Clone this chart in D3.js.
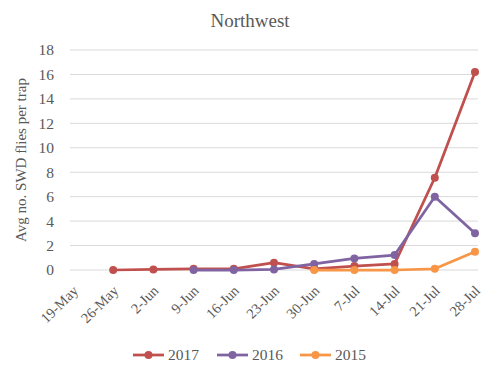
<!DOCTYPE html>
<html><head><meta charset="utf-8">
<script src="https://cdn.jsdelivr.net/npm/d3@7"></script>
<style>body{margin:0;background:#fff;}svg{display:block;}</style>
</head><body>
<script>
const categories = ["19-May","26-May","2-Jun","9-Jun","16-Jun","23-Jun","30-Jun","7-Jul","14-Jul","21-Jul","28-Jul"];
const s2017 = [null,0,0.05,0.1,0.1,0.6,0.1,0.32,0.5,7.55,16.2];
const s2016 = [null,null,null,0,0,0.05,0.5,0.95,1.22,6.0,3.0];
const s2015 = [null,null,null,null,null,null,0,0,0,0.1,1.5];
const yTicks = [0,2,4,6,8,10,12,14,16,18];
const seriesNames = ["2017","2016","2015"];
const colors = ["#C0504D","#8064A2","#F79646"];
const series = [s2017,s2016,s2015];

const W=500,H=373;
const font = "'Liberation Serif', serif";
const svg = d3.select("body").append("svg").attr("width",W).attr("height",H);
const x = d3.scalePoint().domain(categories).range([73,475]);
const y = d3.scaleLinear().domain([0,18]).range([270,50]);

svg.append("text").attr("x",250).attr("y",27).attr("text-anchor","middle")
  .attr("font-family",font).attr("font-size",19).attr("fill","#595959").text("Northwest");

// grid
svg.append("g").selectAll("line").data(yTicks).join("line")
  .attr("x1",70).attr("x2",478).attr("y1",d=>y(d)).attr("y2",d=>y(d))
  .attr("stroke","#D9D9D9").attr("stroke-width",1);

const ya = d3.axisLeft(y).tickValues(yTicks).tickSize(0).tickPadding(8);
const gy = svg.append("g").attr("transform","translate(62,0)").call(ya);
gy.select(".domain").remove();
gy.selectAll("text").attr("font-family",font).attr("font-size",15.5).attr("fill","#595959");

const xa = d3.axisBottom(x).tickSize(0).tickPadding(0);
const gx = svg.append("g").attr("transform","translate(0,282)").call(xa);
gx.select(".domain").remove();
gx.selectAll("text").attr("font-family",font).attr("font-size",14.5).attr("fill","#595959")
  .attr("text-anchor","end").attr("dy","0.35em").attr("transform","translate(2,6) rotate(-45)");

svg.append("text").attr("transform","translate(26,160) rotate(-90)").attr("text-anchor","middle")
  .attr("font-family",font).attr("font-size",15).attr("fill","#595959").text("Avg no. SWD flies per trap");

const line = d3.line().defined(d=>d.v!=null).x(d=>x(d.c)).y(d=>y(d.v));
series.forEach((s,i)=>{
  const pts = s.map((v,j)=>({c:categories[j],v}));
  svg.append("path").datum(pts).attr("d",line).attr("fill","none")
    .attr("stroke",colors[i]).attr("stroke-width",2.75).attr("stroke-linejoin","round");
  svg.append("g").selectAll("circle").data(pts.filter(d=>d.v!=null)).join("circle")
    .attr("cx",d=>x(d.c)).attr("cy",d=>y(d.v)).attr("r",4).attr("fill",colors[i]);
});

// legend
const lx=[133,217,300];
seriesNames.forEach((n,i)=>{
  const g = svg.append("g").attr("transform",`translate(${lx[i]},355)`);
  g.append("line").attr("x1",0).attr("x2",31).attr("stroke",colors[i]).attr("stroke-width",2.75);
  g.append("circle").attr("cx",15.5).attr("r",4).attr("fill",colors[i]);
  g.append("text").attr("x",35).attr("y",5).attr("font-family",font).attr("font-size",15.5)
    .attr("fill","#595959").text(n);
});
</script>
</body></html>
